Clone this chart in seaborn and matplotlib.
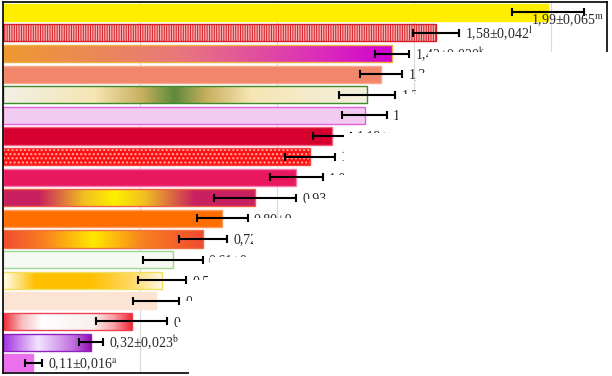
import matplotlib
matplotlib.use("Agg")
import numpy as np
import matplotlib.pyplot as plt
import seaborn as sns
from matplotlib.colors import LinearSegmentedColormap
from matplotlib.patches import Polygon, Rectangle
from matplotlib.transforms import Affine2D

# --- DATA ---
samples = [f"S{i}" for i in range(1, 19)]
means = [1.99, 1.58, 1.42, 1.38, 1.33, 1.32, 1.20, 1.12, 1.07,
         0.92, 0.80, 0.73, 0.62, 0.58, 0.56, 0.47, 0.32, 0.11]
errors = [0.131, 0.084, 0.062, 0.078, 0.102, 0.082, 0.069, 0.091, 0.097,
          0.151, 0.093, 0.089, 0.109, 0.088, 0.084, 0.130, 0.044, 0.031]
labels = ["1,99±0,065$^{\\mathrm{m}}$", "1,58±0,042$^{\\mathrm{l}}$",
          "1,42±0,020$^{\\mathrm{k}}$", "1,3", "1,3", "1", "1,19±", "1",
          "1,0", "0,93", "0,80±0,", "0,72", "0,61±0,", "0,5", "0,", "0,",
          "0,32±0,023$^{\\mathrm{b}}$", "0,11±0,016$^{\\mathrm{a}}$"]

# --- STYLES ---
# solid colour, or a list of gradient stops (left -> right)
fills = [
    "#FFEE00",
    "#D81E28",
    [(0, "#EE9A30"), (0.45, "#E8787C"), (0.8, "#DC30B8"), (1, "#D000D0")],
    "#F2866A",
    [(0, "#F2F0E6"), (0.25, "#F6E6B4"), (0.38, "#C8B060"), (0.47, "#5E8A3A"),
     (0.56, "#C8B060"), (0.68, "#F6E6B4"), (1, "#F4F0E0")],
    "#F2CCF0",
    "#D6002E",
    "#FF1010",
    "#E8185E",
    [(0, "#C82060"), (0.14, "#C82060"), (0.32, "#F0C020"), (0.44, "#FFF000"),
     (0.56, "#F0C020"), (0.76, "#C82060"), (1, "#C82060")],
    "#FF6E00",
    [(0, "#F04A30"), (0.2, "#F88020"), (0.45, "#FFE800"), (0.7, "#F88020"), (1, "#F04A30")],
    "#F6FAF2",
    [(0, "#FFFFF4"), (0.2, "#FFC000"), (0.55, "#FFC000"), (0.8, "#FFD860"), (1, "#FFF8E0")],
    "#FCE4D4",
    [(0, "#F02838"), (0.15, "#F8C0C0"), (0.3, "#FFFFFF"), (0.7, "#F8F0F0"),
     (0.86, "#F8A0A8"), (1, "#F02838")],
    [(0, "#A030E0"), (0.4, "#F4E4FF"), (0.8, "#C070E0"), (1, "#9010B0")],
    "#EC70EC",
]
edges = ["#FFEE00", "#D81E28", "#F0B040", "#F8A890", "#3E8A2E", "#E060E0",
         "#F06080", "#FF4040", "#F878B0", "#F06040", "#FF9A60", "#F07040",
         "#A0D890", "#F0E060", "#FCE4D4", "#F04050", "#9020C0", "#EC70EC"]
hatches = {1: ("|||||||", "#F6B0B0"), 7: ("....", "#FFB0B0")}

# white block over the lower right of the source image (image pixels)
MASK = [(612, 52), (428, 52), (428, 73), (416, 73), (416, 94), (398, 94),
        (398, 133), (344, 133), (344, 175), (330, 175), (330, 199), (306, 199),
        (306, 218), (253, 218), (253, 257), (210, 257), (210, 280), (192, 280),
        (192, 301), (183, 301), (183, 322), (178, 322), (178, 371), (189, 371),
        (189, 376), (612, 376)]

sns.set_theme(style="white")
plt.rcParams["font.family"] = ["Liberation Serif", "DejaVu Serif"]
plt.rcParams["mathtext.fontset"] = "stix"

fig = plt.figure(figsize=(6.12, 3.76), dpi=100)
ax = fig.add_axes([3 / 612, 3 / 376, 604 / 612, 371 / 376])

sns.barplot(x=means, y=samples, orient="h", color="white", width=0.83,
            saturation=1, ax=ax, zorder=2)

for i, patch in enumerate(ax.patches[:18]):
    x0, y0 = patch.get_x(), patch.get_y()
    w, h = patch.get_width(), patch.get_height()
    fill = fills[i]
    if isinstance(fill, str):
        patch.set_facecolor(fill)
    else:
        cmap = LinearSegmentedColormap.from_list(f"g{i}", fill)
        grad = np.linspace(0, 1, 256).reshape(1, -1)
        im = ax.imshow(grad, cmap=cmap, aspect="auto", interpolation="bilinear",
                       extent=[x0, x0 + w, y0 + h, y0], zorder=2.1)
        im.set_clip_path(patch)
    patch.set_edgecolor("none")
    if i in hatches:
        hatch, hcol = hatches[i]
        ax.add_patch(Rectangle((x0, y0), w, h, facecolor="none", edgecolor=hcol,
                               hatch=hatch, lw=0, zorder=2.2))
    ax.add_patch(Rectangle((x0, y0), w, h, facecolor="none", edgecolor=edges[i],
                           lw=1.0, zorder=2.3))

ax.errorbar(means, range(len(means)), xerr=errors, fmt="none", ecolor="black",
            elinewidth=1.5, capsize=3, capthick=1.5, zorder=3)

for i, (m, e, lab) in enumerate(zip(means, errors, labels)):
    if i == 0:
        ax.text(1.927, i + 0.36, lab, fontsize=10, ha="left", va="center", zorder=4)
    else:
        ax.text(m + e + 0.022, i + 0.05, lab, fontsize=10, ha="left", va="center", zorder=4)

ax.set_xlim(0, 604 / 274)
ax.set_ylim(17.5, -0.5)
ax.set_xticks([0.5, 1.0, 1.5, 2.0])
ax.xaxis.grid(True, color="#DADADA", lw=0.8)
ax.set_axisbelow(True)
ax.tick_params(length=0, labelleft=False, labelbottom=False)
ax.set_xlabel("")
ax.set_ylabel("")
for sp in ax.spines.values():
    sp.set_visible(True)
    sp.set_color("black")
    sp.set_linewidth(1.2)

px = Affine2D().scale(1 / 612, -1 / 376).translate(0, 1) + fig.transFigure
mask = Polygon(MASK, closed=True, facecolor="white", edgecolor="none",
               transform=px, zorder=10, clip_on=False)
ax.add_patch(mask)

fig.savefig("out.png", dpi=100)
